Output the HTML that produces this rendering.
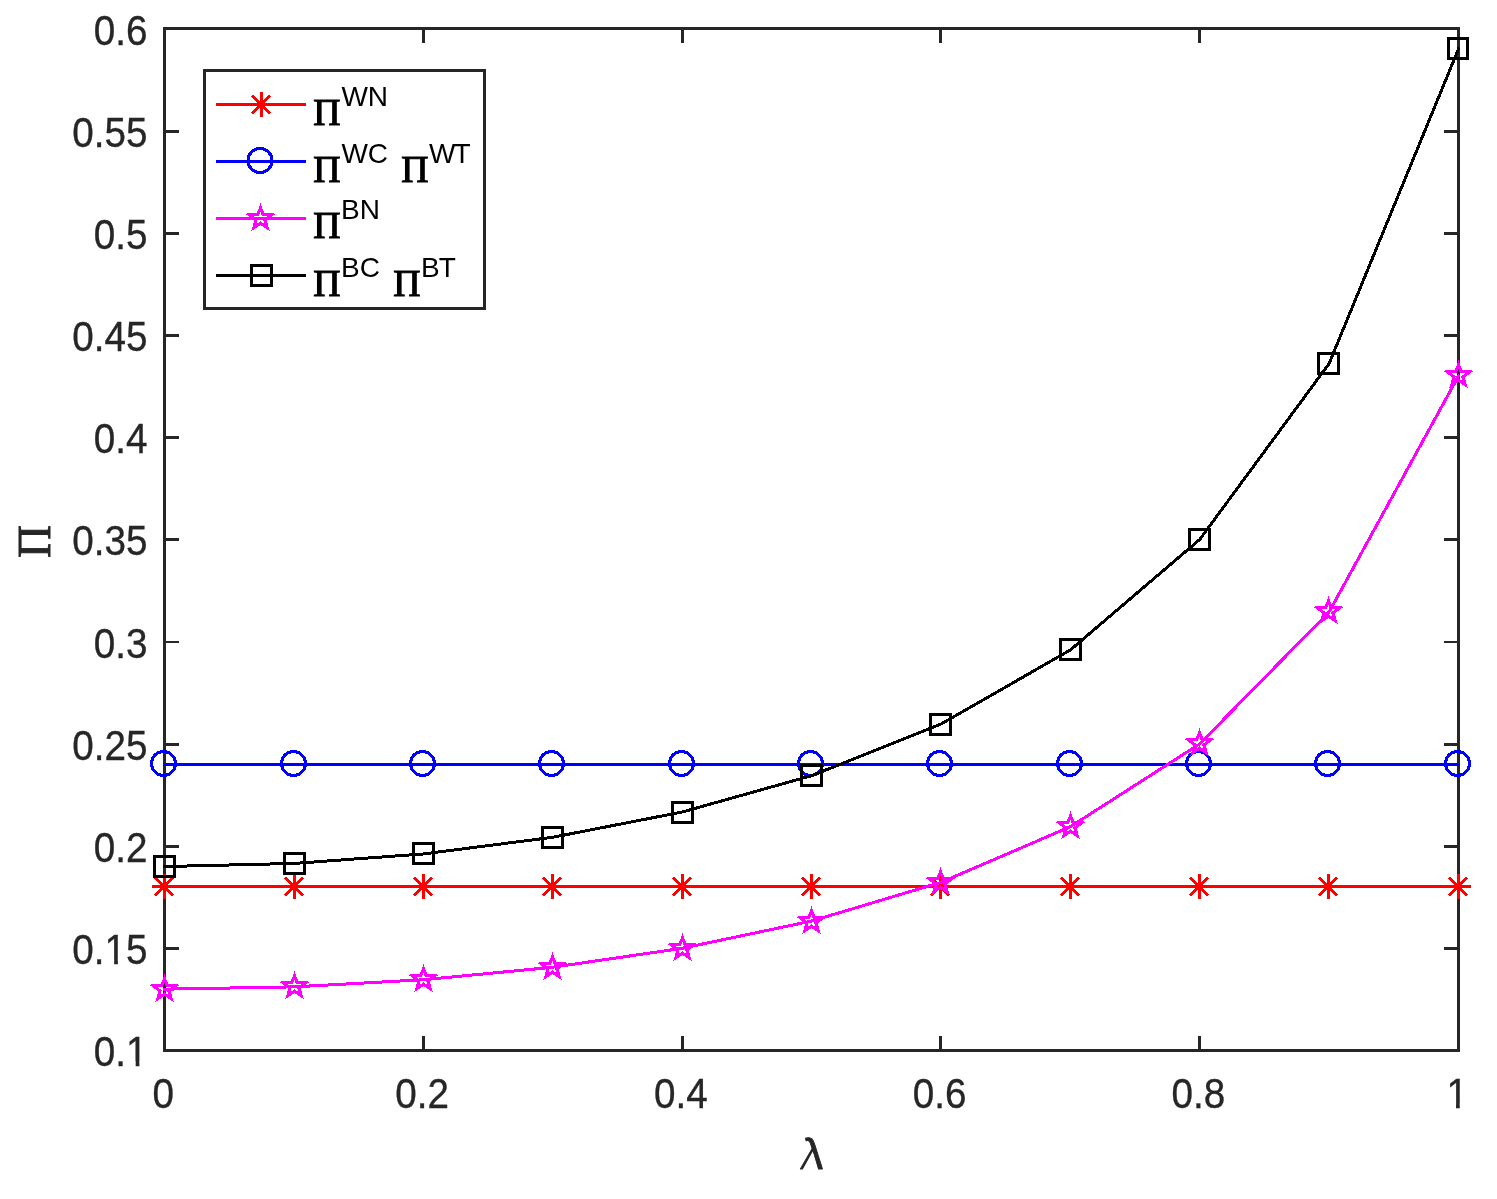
<!DOCTYPE html>
<html lang="en"><head><meta charset="utf-8"><title>Profit vs lambda</title>
<style>html,body{margin:0;padding:0;background:#fff}svg{display:block}.t{font-family:"Liberation Sans",sans-serif;font-size:41.8px;fill:#262626;stroke:#262626;stroke-width:0.35px}.pb{font-family:"Liberation Serif",serif;font-size:38.3px;fill:#000;stroke:#000;stroke-width:1.1px}.sup{font-family:"Liberation Sans",sans-serif;font-size:28px;fill:#000}</style></head><body>
<svg width="1497" height="1199" viewBox="0 0 1497 1199">
<rect x="0" y="0" width="1497" height="1199" fill="#fff"/>
<g class="t" text-anchor="end">
<text transform="translate(147.6 1066.1) scale(0.925 1)">0.1</text>
<text transform="translate(147.6 964.1) scale(0.925 1)">0.15</text>
<text transform="translate(147.6 862.1) scale(0.925 1)">0.2</text>
<text transform="translate(147.6 760.1) scale(0.925 1)">0.25</text>
<text transform="translate(147.6 657.6) scale(0.925 1)">0.3</text>
<text transform="translate(147.6 555.1) scale(0.925 1)">0.35</text>
<text transform="translate(147.6 453.1) scale(0.925 1)">0.4</text>
<text transform="translate(147.6 351.1) scale(0.925 1)">0.45</text>
<text transform="translate(147.6 249.1) scale(0.925 1)">0.5</text>
<text transform="translate(147.6 147.1) scale(0.925 1)">0.55</text>
<text transform="translate(147.6 45.0) scale(0.925 1)">0.6</text>
</g>
<g class="t" text-anchor="middle">
<text transform="translate(163.2 1108.2) scale(0.925 1)">0</text>
<text transform="translate(422.0 1108.2) scale(0.925 1)">0.2</text>
<text transform="translate(680.8 1108.2) scale(0.925 1)">0.4</text>
<text transform="translate(939.6 1108.2) scale(0.925 1)">0.6</text>
<text transform="translate(1198.4 1108.2) scale(0.925 1)">0.8</text>
<text transform="translate(1457.2 1108.2) scale(0.925 1)">1</text>
</g>
<path fill="#fff" d="M1447.95 1103.50H1456.01V1109.70H1447.95ZM1459.75 1103.50H1467.95V1109.70H1459.75ZM127.60 1061.40H135.66V1067.60H127.60ZM139.40 1061.40H147.60V1067.60H139.40ZM106.09 959.40H114.16V965.60H106.09ZM117.89 959.40H126.09V965.60H117.89Z"/>
<text transform="matrix(1.0553 0 -0.0813 1 800.04 1168.7)" style="font-family:'Liberation Sans',sans-serif;font-size:43.33px;fill:#262626;stroke:#262626;stroke-width:0.8px;stroke-linejoin:round">λ</text>
<path fill="#fff" d="M802.46 1169.97L818.21 1169.97L812.70 1151.44Z"/>
<text transform="translate(49.6 557.8) rotate(-90) scale(0.983 1)" style="font-family:'Liberation Serif',serif;font-size:46.1px;fill:#262626;stroke:#262626;stroke-width:1px">Π</text>
<g fill="none" stroke="#262626" stroke-width="3" shape-rendering="crispEdges">
<rect x="164.5" y="28.5" width="1294.0" height="1022.0"/>
<path d="M423.30 1050.5V1036.1M423.30 28.5V42.9M682.10 1050.5V1036.1M682.10 28.5V42.9M940.90 1050.5V1036.1M940.90 28.5V42.9M1199.70 1050.5V1036.1M1199.70 28.5V42.9M164.5 948.5H178.9M1458.5 948.5H1444.1M164.5 846.5H178.9M1458.5 846.5H1444.1M164.5 744.5H178.9M1458.5 744.5H1444.1M164.5 539.5H178.9M1458.5 539.5H1444.1M164.5 437.5H178.9M1458.5 437.5H1444.1M164.5 335.5H178.9M1458.5 335.5H1444.1M164.5 233.5H178.9M1458.5 233.5H1444.1M164.5 131.5H178.9M1458.5 131.5H1444.1"/>
<path stroke-width="2" d="M164.5 642H178.9M1458.5 642H1444.1"/>
</g>
<g fill="none" stroke-width="3" stroke-miterlimit="10" shape-rendering="crispEdges">
<path stroke="#ff0000" stroke-linecap="square" d="M164.50 886.98L293.90 886.98L423.30 886.98L552.70 886.98L682.10 886.98L811.50 886.98L940.90 886.98L1070.30 886.98L1199.70 886.98L1329.10 886.98L1458.50 886.98"/>
<path stroke="#ff0000" d="M164.50 874.00V899.00M152.00 886.50H177.00M155.00 877.50L173.00 895.50M155.00 895.50L173.00 877.50M294.50 874.00V899.00M282.00 886.50H307.00M285.00 877.50L303.00 895.50M285.00 895.50L303.00 877.50M423.50 874.00V899.00M411.00 886.50H436.00M414.00 877.50L432.00 895.50M414.00 895.50L432.00 877.50M552.50 874.00V899.00M540.00 886.50H565.00M543.00 877.50L561.00 895.50M543.00 895.50L561.00 877.50M682.50 874.00V899.00M670.00 886.50H695.00M673.00 877.50L691.00 895.50M673.00 895.50L691.00 877.50M811.50 874.00V899.00M799.00 886.50H824.00M802.00 877.50L820.00 895.50M802.00 895.50L820.00 877.50M940.50 874.00V899.00M928.00 886.50H953.00M931.00 877.50L949.00 895.50M931.00 895.50L949.00 877.50M1070.50 874.00V899.00M1058.00 886.50H1083.00M1061.00 877.50L1079.00 895.50M1061.00 895.50L1079.00 877.50M1199.50 874.00V899.00M1187.00 886.50H1212.00M1190.00 877.50L1208.00 895.50M1190.00 895.50L1208.00 877.50M1328.50 874.00V899.00M1316.00 886.50H1341.00M1319.00 877.50L1337.00 895.50M1319.00 895.50L1337.00 877.50M1458.50 874.00V899.00M1446.00 886.50H1471.00M1449.00 877.50L1467.00 895.50M1449.00 895.50L1467.00 877.50"/>
<path stroke="#0000ff" stroke-linecap="square" d="M164.50 764.34L293.90 764.34L423.30 764.34L552.70 764.34L682.10 764.34L811.50 764.34L940.90 764.34L1070.30 764.34L1199.70 764.34L1329.10 764.34L1458.50 764.34"/>
<path stroke="#0000ff" d="M151.50 763.50a12 12 0 1 0 24 0a12 12 0 1 0 -24 0ZM281.50 763.50a12 12 0 1 0 24 0a12 12 0 1 0 -24 0ZM410.50 763.50a12 12 0 1 0 24 0a12 12 0 1 0 -24 0ZM539.50 763.50a12 12 0 1 0 24 0a12 12 0 1 0 -24 0ZM669.50 763.50a12 12 0 1 0 24 0a12 12 0 1 0 -24 0ZM798.50 763.50a12 12 0 1 0 24 0a12 12 0 1 0 -24 0ZM927.50 763.50a12 12 0 1 0 24 0a12 12 0 1 0 -24 0ZM1057.50 763.50a12 12 0 1 0 24 0a12 12 0 1 0 -24 0ZM1186.50 763.50a12 12 0 1 0 24 0a12 12 0 1 0 -24 0ZM1315.50 763.50a12 12 0 1 0 24 0a12 12 0 1 0 -24 0ZM1445.50 763.50a12 12 0 1 0 24 0a12 12 0 1 0 -24 0Z"/>
<path stroke="#ff00ff" stroke-linecap="square" d="M164.50 989.18L293.90 986.87L423.30 979.75L552.70 967.25L682.10 948.30L811.50 921.05L940.90 882.36L1070.30 826.76L1199.70 743.90L1329.10 611.95L1458.50 375.98"/>
<path stroke="#ff00ff" d="M164.50 978.50L167.20 985.78L175.44 985.95L168.87 990.92L171.26 998.80L164.50 994.10L157.74 998.80L160.13 990.92L153.56 985.95L161.80 985.78ZM294.50 975.50L297.20 982.78L305.44 982.95L298.87 987.92L301.26 995.80L294.50 991.10L287.74 995.80L290.13 987.92L283.56 982.95L291.80 982.78ZM423.50 968.50L426.20 975.78L434.44 975.95L427.87 980.92L430.26 988.80L423.50 984.10L416.74 988.80L419.13 980.92L412.56 975.95L420.80 975.78ZM552.50 956.50L555.20 963.78L563.44 963.95L556.87 968.92L559.26 976.80L552.50 972.10L545.74 976.80L548.13 968.92L541.56 963.95L549.80 963.78ZM682.50 937.50L685.20 944.78L693.44 944.95L686.87 949.92L689.26 957.80L682.50 953.10L675.74 957.80L678.13 949.92L671.56 944.95L679.80 944.78ZM811.50 910.50L814.20 917.78L822.44 917.95L815.87 922.92L818.26 930.80L811.50 926.10L804.74 930.80L807.13 922.92L800.56 917.95L808.80 917.78ZM940.50 871.50L943.20 878.78L951.44 878.95L944.87 883.92L947.26 891.80L940.50 887.10L933.74 891.80L936.13 883.92L929.56 878.95L937.80 878.78ZM1070.50 815.50L1073.20 822.78L1081.44 822.95L1074.87 827.92L1077.26 835.80L1070.50 831.10L1063.74 835.80L1066.13 827.92L1059.56 822.95L1067.80 822.78ZM1199.50 732.50L1202.20 739.78L1210.44 739.95L1203.87 744.92L1206.26 752.80L1199.50 748.10L1192.74 752.80L1195.13 744.92L1188.56 739.95L1196.80 739.78ZM1328.50 600.50L1331.20 607.78L1339.44 607.95L1332.87 612.92L1335.26 620.80L1328.50 616.10L1321.74 620.80L1324.13 612.92L1317.56 607.95L1325.80 607.78ZM1458.50 364.50L1461.20 371.78L1469.44 371.95L1462.87 376.92L1465.26 384.80L1458.50 380.10L1451.74 384.80L1454.13 376.92L1447.56 371.95L1455.80 371.78Z"/>
<path stroke="#000000" stroke-linecap="square" d="M164.50 866.54L293.90 863.45L423.30 853.96L552.70 837.30L682.10 812.03L811.50 775.70L940.90 724.12L1070.30 649.99L1199.70 539.50L1329.10 363.56L1458.50 48.94"/>
<path stroke="#000000" d="M154.50 856.50h20v20h-20ZM284.50 853.50h20v20h-20ZM413.50 843.50h20v20h-20ZM542.50 827.50h20v20h-20ZM672.50 802.50h20v20h-20ZM801.50 765.50h20v20h-20ZM930.50 714.50h20v20h-20ZM1060.50 639.50h20v20h-20ZM1189.50 529.50h20v20h-20ZM1318.50 353.50h20v20h-20ZM1448.5 38.50h19v20h-19Z"/>
</g>
<rect x="204.5" y="70.5" width="280" height="238" fill="#fff" stroke="#262626" stroke-width="3" shape-rendering="crispEdges"/>
<g fill="none" stroke-width="3" stroke-miterlimit="10" shape-rendering="crispEdges">
<path stroke="#ff0000" d="M216 104.5H306M261.50 92.00V117.00M249.00 104.50H274.00M252.00 95.50L270.00 113.50M252.00 113.50L270.00 95.50"/>
<path stroke="#0000ff" d="M216 161.5H306M248.00 160.50a12 12 0 1 0 24 0a12 12 0 1 0 -24 0Z"/>
<path stroke="#ff00ff" d="M216 218.5H306M260.50 207.50L263.20 214.78L271.44 214.95L264.87 219.92L267.26 227.80L260.50 223.10L253.74 227.80L256.13 219.92L249.56 214.95L257.80 214.78Z"/>
<path stroke="#000000" d="M216 275.5H306M251.50 265.50h20v20h-20Z"/>
</g>
<g shape-rendering="crispEdges" text-rendering="optimizeSpeed">
<text class="pb" transform="translate(313.36 124.5) scale(0.987 1)">Π</text>
<text class="sup" x="341.4" y="106">WN</text>
<text class="pb" transform="translate(313.36 181.5) scale(0.987 1)">Π</text>
<text class="sup" x="341.4" y="163">WC</text>
<text class="pb" transform="translate(401.26 181.5) scale(0.987 1)">Π</text>
<text class="sup" x="428.9" y="163">W<tspan dx="-1.8">T</tspan></text>
<text class="pb" transform="translate(313.36 237.5) scale(0.987 1)">Π</text>
<text class="sup" x="341" y="219">BN</text>
<text class="pb" transform="translate(313.36 295.5) scale(0.987 1)">Π</text>
<text class="sup" x="341" y="277">BC</text>
<text class="pb" transform="translate(393.36 295.5) scale(0.987 1)">Π</text>
<text class="sup" x="421" y="277">B<tspan dx="-0.9">T</tspan></text>
</g>
</svg></body></html>
